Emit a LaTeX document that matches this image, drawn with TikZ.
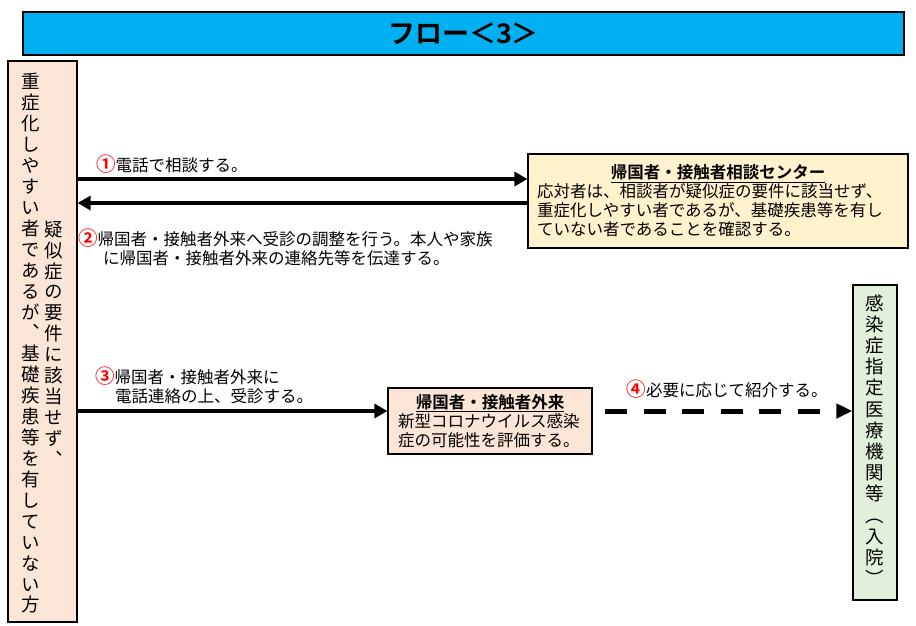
\documentclass[tikz,border=0pt]{standalone}
\usepackage{fontspec}
\setmainfont{Noto Sans CJK JP}[BoldFont={Noto Sans CJK JP Bold}]
\newfontfamily\tatefont{Noto Sans CJK JP}[RawFeature={+vert}]
\usepackage{xcolor}
\usetikzlibrary{arrows.meta}
\definecolor{titleblue}{HTML}{00B0F0}
\definecolor{peach}{HTML}{FBE5D6}
\definecolor{cream}{HTML}{FFF2CC}
\definecolor{palegreen}{HTML}{E2EFDA}
\newcommand\stepno[1]{{\color{red}\fontsize{19.5}{19}\bfseries #1}}

\begin{document}
\begin{tikzpicture}[x=1pt, y=-1pt,
    box/.style={draw, line width=1.2pt, inner sep=0pt},
    tate/.style={align=center, inner sep=0pt, font=\tatefont\fontsize{18.5}{20.92}\selectfont},
    txt/.style={align=left, inner sep=0pt, font=\fontsize{16.5}{19}\selectfont},
    arr/.style={line width=4pt, -{Triangle[length=13pt,width=14pt]}}]
            \useasboundingbox (0,0) rectangle (916,625);

            % boxes
            \node[box, fill=titleblue, minimum width=881pt, minimum height=43pt, font=\fontsize{27}{27}\bfseries\selectfont] (title) at (463.5,33.5) {フロー＜3＞};
            \node[box, fill=peach, minimum width=69pt, minimum height=561pt] (ppl) at (42.5,341.5) {};
            \node[tate] (pplA) at (30.5,343.5) {重\\症\\化\\し\\や\\す\\い\\者\\で\\あ\\る\\が\\、\\基\\礎\\疾\\患\\等\\を\\有\\し\\て\\い\\な\\い\\方};
            \node[tate] (pplB) at (54,343.5) {疑\\似\\症\\の\\要\\件\\に\\該\\当\\せ\\ず\\、};

            \node[box, fill=cream, minimum width=380pt, minimum height=94pt, txt, text width=362pt] (soudan) at (718,201) {\makebox[362pt]{\bfseries\underline{帰国者・接触者相談センター}}\\応対者は、相談者が疑似症の要件に該当せず、\\重症化しやすい者であるが、基礎疾患等を有し\\ていない者であることを確認する。};

            \node[box, fill=peach, minimum width=204pt, minimum height=66pt, txt, text width=184pt] (gairai) at (490,421) {\makebox[184pt]{\bfseries\underline{帰国者・接触者外来}}\\新型コロナウイルス感染\\症の可能性を評価する。};

            \node[box, fill=palegreen, minimum width=44pt, minimum height=315pt] (hosp) at (875,442.5) {};
            \node[tate, font=\tatefont\fontsize{18.5}{21.2}\selectfont] (hospT) at (875,440) {感\\染\\症\\指\\定\\医\\療\\機\\関\\等\\（\\入\\院\\）};

            % labels
            \node[txt, anchor=west] (lbl1) at (96,164) {\stepno{①}電話で相談する。};
            \node[txt, anchor=west] (lbl2) at (78,247) {\stepno{②}帰国者・接触者外来へ受診の調整を行う。本人や家族\\\hspace*{25pt}に帰国者・接触者外来の連絡先等を伝達する。};
            \node[txt, anchor=west] (lbl3) at (95,385.5) {\stepno{③}帰国者・接触者外来に\\\hspace*{20pt}電話連絡の上、受診する。};
            \node[txt] (lbl4) at (727,389) {\stepno{④}必要に応じて紹介する。};

            % arrows
            \coordinate (d4) at (605,411);
            \draw[arr] (ppl.east |- 0,179) -- (soudan.west |- 0,179);
            \draw[arr] (soudan.west |- 0,203) -- (ppl.east |- 0,203);
            \draw[arr] (ppl.east |- 0,411) -- (gairai.west |- 0,411);
            \draw[line width=5pt, dash pattern=on 22pt off 16.6pt, -{Triangle[length=16pt,width=14pt]}] (d4) -- (hosp.west |- d4);
        \end{tikzpicture}
\end{document}
